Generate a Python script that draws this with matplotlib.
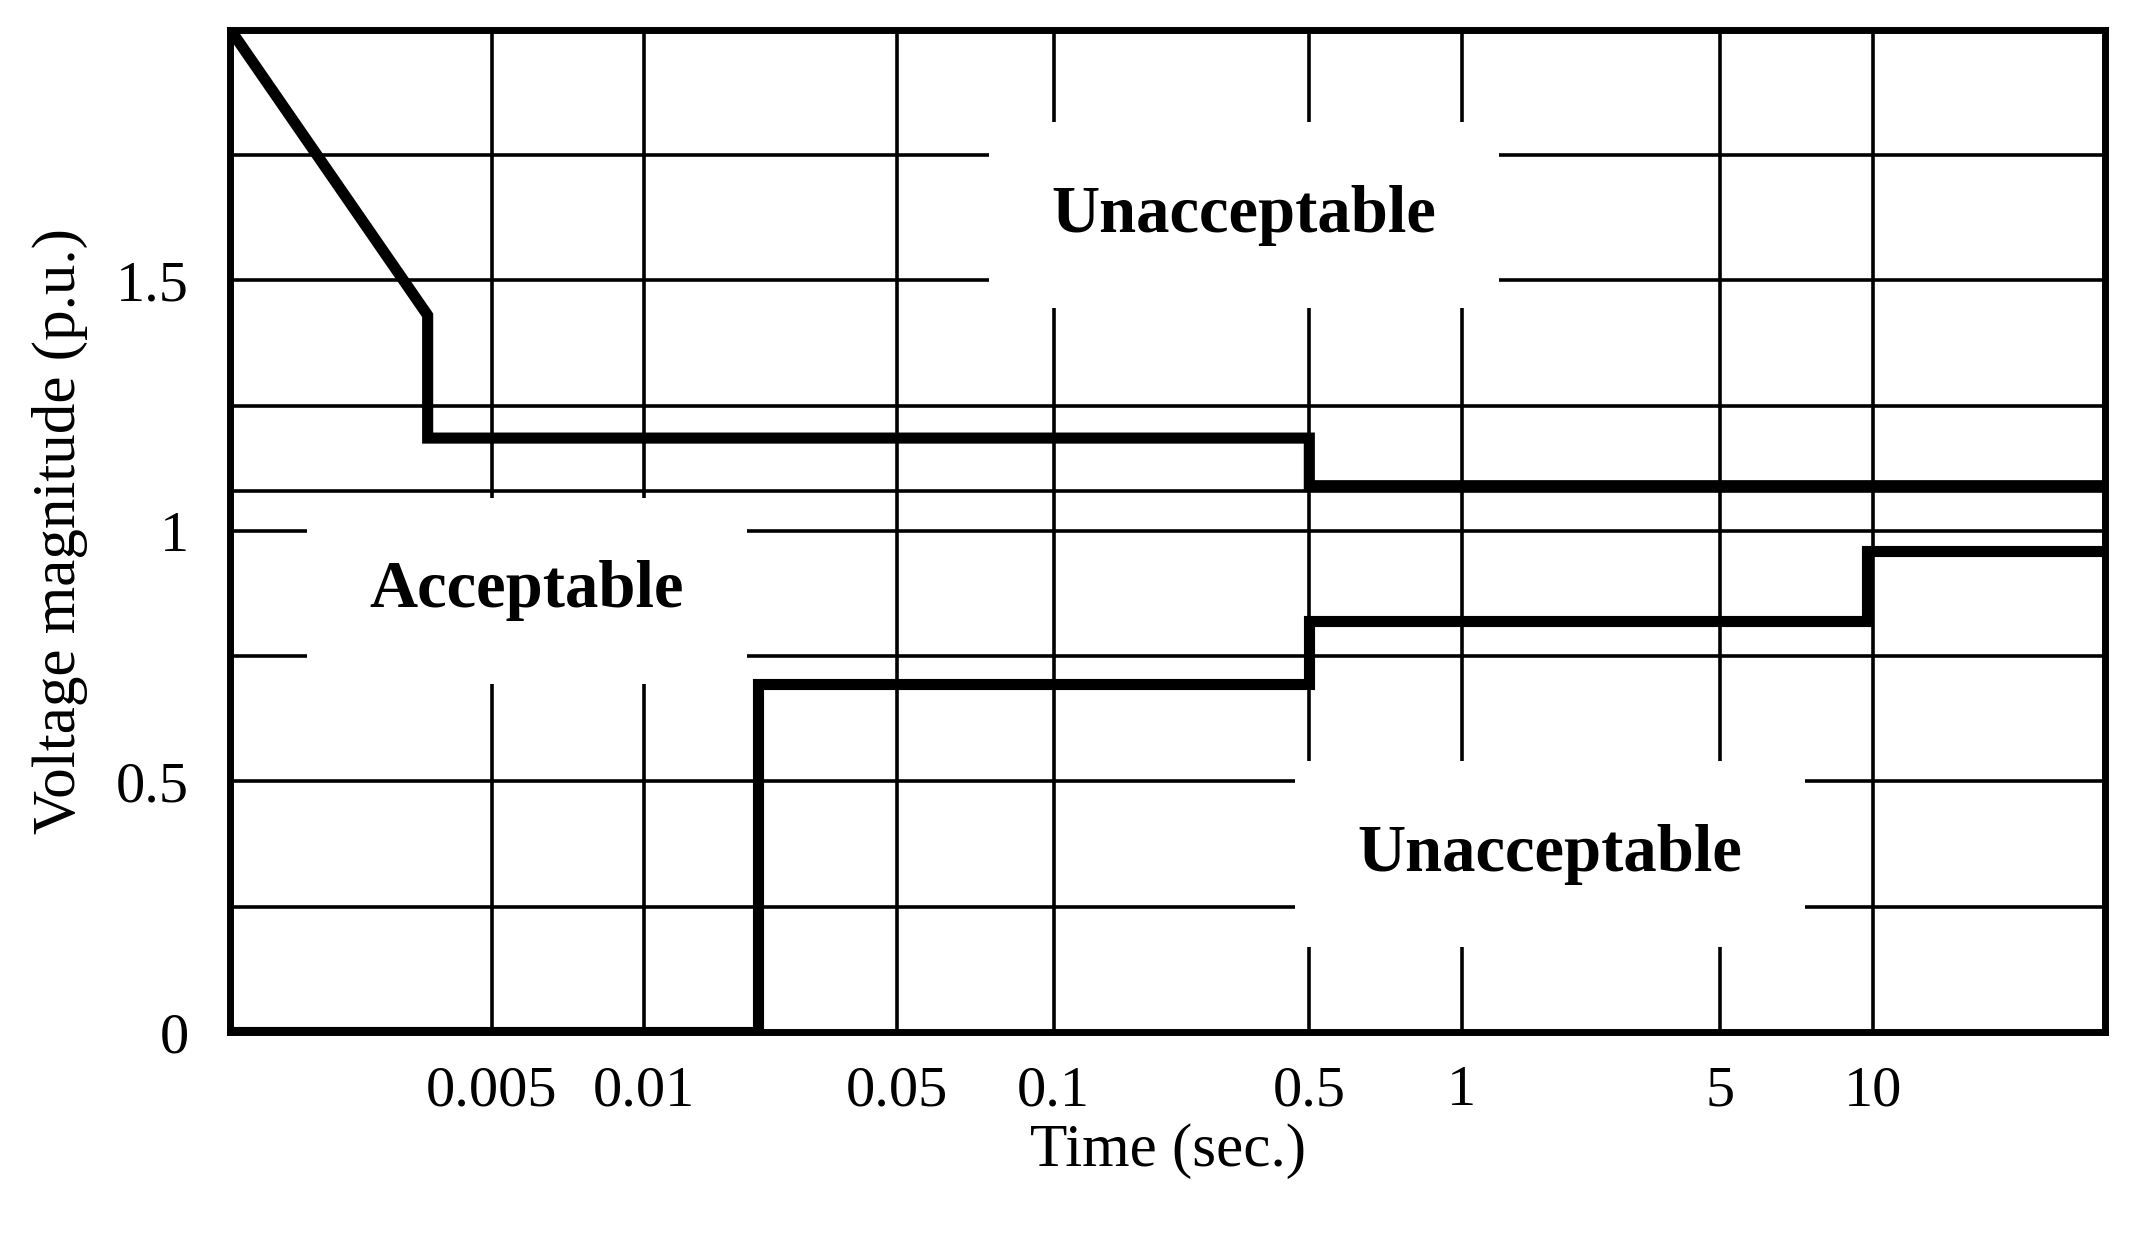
import matplotlib.pyplot as plt

# schematic (non-uniform) time axis: positions of the labelled grid lines
x_max = 1378
tick_pos = [192, 304, 490, 605, 793, 905, 1095, 1207]
tick_labels = ['0.005', '0.01', '0.05', '0.1', '0.5', '1', '5', '10']

y_grid = [0.25, 0.5, 0.75, 1.0, 1.08, 1.25, 1.5, 1.75]
y_ticks = [0, 0.5, 1, 1.5]
y_tick_labels = ['0', '0.5', '1', '1.5']

# upper limit curve
upper_x = [0, 145, 145, 793, 793, x_max]
upper_y = [2.0, 1.43, 1.185, 1.185, 1.09, 1.09]

# lower limit curve
lower_x = [0, 388, 388, 793, 793, 1203, 1203, x_max]
lower_y = [0, 0, 0.695, 0.695, 0.82, 0.82, 0.96, 0.96]

plt.rcParams['font.family'] = ['Liberation Serif', 'DejaVu Serif']

fig = plt.figure(figsize=(21.33, 12.33), dpi=100)
ax = fig.add_axes([0.108, 0.163, 0.879, 0.813])

for x in tick_pos:
    ax.axvline(x, color='black', lw=2.6, zorder=1)
for y in y_grid:
    ax.axhline(y, color='black', lw=2.6, zorder=1)

ax.plot(upper_x, upper_y, color='black', lw=8, solid_joinstyle='miter', zorder=3)
ax.plot(lower_x, lower_y, color='black', lw=8, solid_joinstyle='miter', zorder=3)

box = dict(facecolor='white', edgecolor='none', pad=45)
ax.text(745, 1.63, 'Unacceptable', ha='center', va='center', fontsize=48,
        fontweight='bold', bbox=box, zorder=2)
ax.text(218, 0.88, 'Acceptable', ha='center', va='center', fontsize=48,
        fontweight='bold', bbox=box, zorder=2)
ax.text(970, 0.355, 'Unacceptable', ha='center', va='center', fontsize=48,
        fontweight='bold', bbox=box, zorder=2)

ax.set_xlim(0, x_max)
ax.set_ylim(0, 2.0)
ax.set_xticks(tick_pos)
ax.set_xticklabels(tick_labels, fontsize=42)
ax.set_yticks(y_ticks)
ax.set_yticklabels(y_tick_labels, fontsize=42)
ax.tick_params(axis='x', length=0, pad=24)
ax.tick_params(axis='y', length=0, pad=30)
ax.set_xlabel('Time (sec.)', fontsize=44, labelpad=4)
ax.set_ylabel('Voltage magnitude (p.u.)', fontsize=44, labelpad=20)
for s in ax.spines.values():
    s.set_linewidth(5)

fig.savefig('out.png', dpi=100)
